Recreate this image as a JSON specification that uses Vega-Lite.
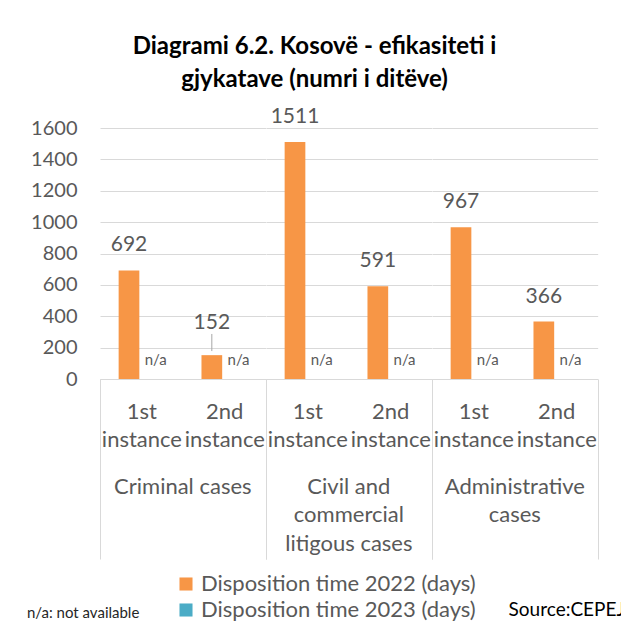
{
  "$schema": "https://vega.github.io/schema/vega-lite/v6.json",
  "background": "white",
  "padding": {"left": 27, "top": 34, "right": 5, "bottom": 5},
  "config": {
    "font": "Lato",
    "view": {"stroke": null},
    "axis": {"labelFont": "Lato", "titleFont": "Lato"},
    "header": {"labelFont": "Lato"},
    "legend": {"labelFont": "Lato", "titleFont": "Lato"},
    "title": {"font": "Lato"}
  },
  "title": {
    "text": "Source:CEPEJ",
    "orient": "bottom",
    "anchor": "end",
    "fontSize": 19,
    "fontWeight": "normal",
    "color": "#000000",
    "offset": -20,
    "dx": 26
  },
  "vconcat": [
    {
      "data": {
        "values": [
          {"group": "Criminal cases", "instance": "1st instance", "series": "Disposition time 2022 (days)", "value": 692},
          {"group": "Criminal cases", "instance": "1st instance", "series": "Disposition time 2023 (days)", "value": null},
          {"group": "Criminal cases", "instance": "2nd instance", "series": "Disposition time 2022 (days)", "value": 152},
          {"group": "Criminal cases", "instance": "2nd instance", "series": "Disposition time 2023 (days)", "value": null},
          {"group": "Civil and commercial litigous cases", "instance": "1st instance", "series": "Disposition time 2022 (days)", "value": 1511},
          {"group": "Civil and commercial litigous cases", "instance": "1st instance", "series": "Disposition time 2023 (days)", "value": null},
          {"group": "Civil and commercial litigous cases", "instance": "2nd instance", "series": "Disposition time 2022 (days)", "value": 591},
          {"group": "Civil and commercial litigous cases", "instance": "2nd instance", "series": "Disposition time 2023 (days)", "value": null},
          {"group": "Administrative cases", "instance": "1st instance", "series": "Disposition time 2022 (days)", "value": 967},
          {"group": "Administrative cases", "instance": "1st instance", "series": "Disposition time 2023 (days)", "value": null},
          {"group": "Administrative cases", "instance": "2nd instance", "series": "Disposition time 2022 (days)", "value": 366},
          {"group": "Administrative cases", "instance": "2nd instance", "series": "Disposition time 2023 (days)", "value": null}
        ]
      },
      "title": {
        "text": ["Diagrami 6.2. Kosovë - efikasiteti i", "gjykatave (numri i ditëve)"],
        "fontSize": 24,
        "fontWeight": "bold",
        "color": "#000000",
        "lineHeight": 33,
        "anchor": "middle",
        "offset": 14
      },
      "facet": {
        "column": {
          "field": "group",
          "type": "nominal",
          "sort": ["Criminal cases", "Civil and commercial litigous cases", "Administrative cases"],
          "header": {
            "title": null,
            "labelOrient": "bottom",
            "labelFontSize": 22,
            "labelColor": "#595959",
            "labelLineHeight": 28.5,
            "labelPadding": -83,
            "labelExpr": "datum.value == 'Civil and commercial litigous cases' ? ['Civil and', 'commercial', 'litigous cases'] : datum.value == 'Administrative cases' ? ['Administrative', 'cases'] : datum.value"
          }
        }
      },
      "spacing": 0,
      "spec": {
        "width": 165.67,
        "height": 251,
        "encoding": {
          "x": {
            "field": "instance",
            "type": "nominal",
            "scale": {"paddingInner": 0, "paddingOuter": 0},
            "axis": {
              "title": null,
              "labelAngle": 0,
              "labelExpr": "split(datum.label, ' ')",
              "labelFontSize": 22,
              "labelColor": "#595959",
              "labelLineHeight": 28,
              "domainColor": "#d9d9d9",
              "tickBand": "extent",
              "tickSize": 180,
              "tickColor": {"condition": {"test": "datum.value == '1st instance' && !datum.extra", "value": "transparent"}, "value": "#d9d9d9"},
              "labelPadding": -158
            }
          },
          "xOffset": {
            "field": "series",
            "scale": {"domain": ["Disposition time 2022 (days)", "Disposition time 2023 (days)"], "paddingInner": 0, "paddingOuter": 1.306, "align": 0.45}
          }
        },
        "layer": [
          {
            "mark": {"type": "bar"},
            "encoding": {
              "y": {
                "field": "value",
                "type": "quantitative",
                "scale": {"domain": [0, 1600]},
                "axis": {
                  "title": null,
                  "values": [0, 200, 400, 600, 800, 1000, 1200, 1400, 1600],
                  "tickCount": 12,
                  "format": "d",
                  "labelOverlap": false,
                  "grid": true,
                  "gridColor": "#d9d9d9",
                  "domain": false,
                  "ticks": false,
                  "labelFontSize": 20,
                  "labelColor": "#595959",
                  "labelPadding": 23
                }
              },
              "color": {
                "field": "series",
                "type": "nominal",
                "scale": {"domain": ["Disposition time 2022 (days)", "Disposition time 2023 (days)"], "range": ["#F79646", "#4BACC6"]},
                "legend": {
                  "title": "n/a: not available",
                  "titleOrient": "left",
                  "titleAnchor": "end",
                  "titleBaseline": "bottom",
                  "titleFontSize": 15,
                  "titleFontWeight": "normal",
                  "titleColor": "#262626",
                  "titlePadding": 35,
                  "orient": "none",
                  "legendX": -73,
                  "legendY": 445,
                  "direction": "vertical",
                  "symbolType": "square",
                  "symbolSize": 170,
                  "symbolStrokeWidth": 0,
                  "labelFontSize": 22,
                  "labelColor": "#595959",
                  "labelLimit": 400,
                  "rowPadding": 4
                }
              }
            }
          },
          {
            "transform": [{"filter": "datum.value != null && datum.value != 152"}],
            "mark": {"type": "text", "baseline": "middle", "dy": -25, "fontSize": 21, "color": "#595959"},
            "encoding": {
              "y": {"field": "value", "type": "quantitative", "axis": {"title": null, "values": [0, 200, 400, 600, 800, 1000, 1200, 1400, 1600], "tickCount": 12, "format": "d", "labelOverlap": false}},
              "text": {"field": "value", "type": "quantitative"}
            }
          },
          {
            "transform": [{"filter": "datum.value == 152"}],
            "mark": {"type": "text", "baseline": "middle", "dy": -32, "fontSize": 21, "color": "#595959"},
            "encoding": {
              "y": {"field": "value", "type": "quantitative", "axis": {"title": null, "values": [0, 200, 400, 600, 800, 1000, 1200, 1400, 1600], "tickCount": 12, "format": "d", "labelOverlap": false}},
              "text": {"field": "value", "type": "quantitative"}
            }
          },
          {
            "transform": [{"filter": "datum.value == 152"}],
            "mark": {"type": "rule", "color": "#a6a6a6", "strokeWidth": 1},
            "encoding": {
              "y": {"datum": 178, "type": "quantitative", "axis": {"title": null, "values": [0, 200, 400, 600, 800, 1000, 1200, 1400, 1600], "tickCount": 12, "format": "d", "labelOverlap": false}},
              "y2": {"datum": 287}
            }
          },
          {
            "transform": [{"filter": "datum.value == null"}],
            "mark": {"type": "text", "baseline": "middle", "dy": -19, "dx": 6, "fontSize": 15, "color": "#595959"},
            "encoding": {
              "y": {"datum": 0, "type": "quantitative", "axis": {"title": null, "values": [0, 200, 400, 600, 800, 1000, 1200, 1400, 1600], "tickCount": 12, "format": "d", "labelOverlap": false}},
              "text": {"value": "n/a"}
            }
          }
        ]
      }
    }
  ]
}
